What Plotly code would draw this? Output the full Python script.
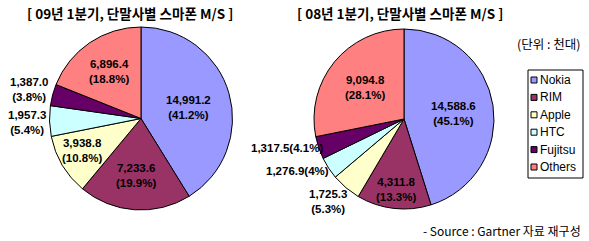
import plotly.graph_objects as go

# ---- data ----
companies = ["Nokia", "RIM", "Apple", "HTC", "Fujitsu", "Others"]
units_09q1 = [14991.2, 7233.6, 3938.8, 1957.3, 1387.0, 6896.4]
share_09q1 = ["41.2", "19.9", "10.8", "5.4", "3.8", "18.8"]
units_08q1 = [14588.6, 4311.8, 1725.3, 1276.9, 1317.5, 9094.8]
share_08q1 = ["45.1", "13.3", "5.3", "4", "4.1", "28.1"]
colors = ["#9999FF", "#993366", "#FFFFCC", "#CCFFFF", "#660066", "#FF8080"]
title_09 = "[ 09년 1분기, 단말사별 스마폰 M/S ]"
title_08 = "[ 08년 1분기, 단말사별 스마폰 M/S ]"
unit_note = "(단위 : 천대)"
source_note = "- Source : Gartner 자료 재구성"

W, H = 589, 241

# label placement (pixel centres, top-left origin) and number of lines per slice
label_pos_09 = [(189, 108, 2), (136, 175, 2), (82, 150, 2), (27, 123, 2), (29, 89, 2), (109, 71, 2)]
label_pos_08 = [(454, 113, 2), (396, 189, 2), (328, 201, 2), (297, 171, 1), (287, 148, 1), (365, 87, 2)]


def make_labels(values, shares, positions):
    anns = []
    for v, pct, (x, y, lines) in zip(values, shares, positions):
        num = f"{v:,.1f}"
        sep = "<br>" if lines == 2 else ""
        anns.append(dict(
            x=x / W, y=1 - y / H, xref="paper", yref="paper",
            text=f"<b>{num}{sep}({pct}%)</b>", showarrow=False,
            font=dict(family="Liberation Sans, Arial", size=11.5, color="black"),
            xanchor="center", yanchor="middle", align="center",
        ))
    return anns


def domain(cx, cy, r):
    return dict(x=[(cx - r) / W, (cx + r) / W], y=[1 - (cy + r) / H, 1 - (cy - r) / H])


fig = go.Figure()
for vals, (cx, cy, r) in [(units_09q1, (141, 118.5, 91.5)), (units_08q1, (404, 119, 90))]:
    fig.add_trace(go.Pie(
        labels=companies, values=vals, sort=False, direction="clockwise", rotation=0,
        marker=dict(colors=colors, line=dict(color="black", width=1)),
        textinfo="none", hoverinfo="label+value+percent",
        domain=domain(cx, cy, r), showlegend=False,
    ))

annotations = make_labels(units_09q1, share_09q1, label_pos_09) + make_labels(units_08q1, share_08q1, label_pos_08)

title_font = dict(family="Noto Sans CJK KR", size=13.5, color="black")
annotations.append(dict(x=130 / W, y=1 - 13 / H, xref="paper", yref="paper", text=f"<b>{title_09}</b>",
                        showarrow=False, font=title_font, xanchor="center", yanchor="middle"))
annotations.append(dict(x=400 / W, y=1 - 13 / H, xref="paper", yref="paper", text=f"<b>{title_08}</b>",
                        showarrow=False, font=title_font, xanchor="center", yanchor="middle"))
annotations.append(dict(x=583 / W, y=1 - 43 / H, xref="paper", yref="paper", text=unit_note,
                        showarrow=False, font=dict(family="Noto Sans CJK KR", size=12.5, color="black"),
                        xanchor="right", yanchor="middle"))
annotations.append(dict(x=583 / W, y=1 - 230 / H, xref="paper", yref="paper", text=source_note,
                        showarrow=False, font=dict(family="Noto Sans CJK KR", size=12, color="black"),
                        xanchor="right", yanchor="middle"))

# manual legend
shapes = [dict(type="rect", xref="paper", yref="paper",
               x0=528 / W, x1=583 / W, y0=1 - 178 / H, y1=1 - 70 / H,
               line=dict(color="black", width=1), fillcolor="white")]
lx, ly0, dy = 531, 80, 17.4
for i, (name, col) in enumerate(zip(companies, colors)):
    y = ly0 + i * dy
    shapes.append(dict(type="rect", xref="paper", yref="paper",
                       x0=lx / W, x1=(lx + 6) / W, y0=1 - (y + 3) / H, y1=1 - (y - 3) / H,
                       line=dict(color="black", width=1), fillcolor=col))
    annotations.append(dict(x=(lx + 7) / W, y=1 - y / H, xref="paper", yref="paper", text=name,
                            showarrow=False, font=dict(family="Liberation Sans, Arial", size=12, color="black"),
                            xanchor="left", yanchor="middle"))

fig.update_layout(
    width=W, height=H, margin=dict(l=0, r=0, t=0, b=0),
    paper_bgcolor="white", plot_bgcolor="white",
    annotations=annotations, shapes=shapes,
)

fig.write_html("out.html")
